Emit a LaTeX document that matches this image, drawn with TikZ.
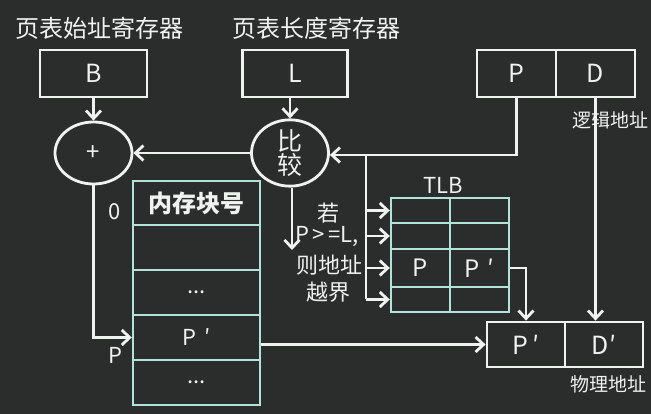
\documentclass[tikz,border=0pt]{standalone}
\usepackage{fontspec}
\setmainfont{Noto Sans CJK SC}
\usepackage{tikz}
\usetikzlibrary{arrows.meta,shapes.geometric}
\definecolor{board}{HTML}{2B2C2C}
\definecolor{chalk}{HTML}{EEF3EF}
\definecolor{cyanline}{HTML}{B3E2D8}
\tikzset{
  reg/.style={draw=chalk,line width=2.8pt,minimum height=47pt,inner sep=0pt,text=chalk,font=\fontsize{25}{27}\selectfont},
  op/.style={ellipse,draw=chalk,line width=2.8pt,inner sep=0pt,minimum width=77pt,minimum height=62pt,text=chalk},
  cell/.style={draw=cyanline,line width=2.4pt,inner sep=0pt,text=chalk,font=\fontsize{22}{24}\selectfont},
  lbl/.style={text=chalk,inner sep=0pt,font=\fontsize{22}{24}\selectfont},
  wire/.style={draw=chalk,line width=2.8pt},
  link/.style={wire,-{Straight Barb[length=8pt,width=15pt]}},
}

\begin{document}
\begin{tikzpicture}[x=1pt,y=-1pt]
  \fill[board] (0,0) rectangle (651,414);
  \useasboundingbox (0,0) rectangle (651,414);
  % registers and logical address
  \node[lbl,font=\fontsize{24}{26}\selectfont] (tBase) at (100,28) {页表始址寄存器};
  \node[lbl,font=\fontsize{24}{26}\selectfont] (tLen) at (316,28) {页表长度寄存器};
  \node[reg,minimum width=107pt] (regB) at (93.5,73.5) {B};
  \node[reg,minimum width=105pt] (regL) at (295,73.5) {L};
  \node[reg,minimum width=79pt] (logP) at (516.5,73.5) {P};
  \node[reg,minimum width=79pt] (logD) at (595.5,73.5) {D};
  \node[lbl,anchor=west,font=\fontsize{19}{21}\selectfont] (tLog) at (572,120) {逻辑地址};
  % adder and comparator
  \node[op,font=\fontsize{24}{26}\selectfont] (plus) at (93.5,153) {+};
  \node[op,font=\fontsize{25}{24}\selectfont,align=center] (cmp) at (290,153) {比\\较};
  % page table in memory
  \node[cell,minimum width=127pt,minimum height=44pt,font=\bfseries\fontsize{24}{26}\selectfont] (mem0) at (196.5,203) {内存块号};
  \node[cell,minimum width=127pt,minimum height=45pt] (mem1) at (196.5,247.5) {};
  \node[cell,minimum width=127pt,minimum height=45pt] (mem2) at (196.5,292.5) {...};
  \node[cell,minimum width=127pt,minimum height=45pt] (mem3) at (196.5,337.5) {P\,\,′};
  \node[cell,minimum width=127pt,minimum height=45pt] (mem4) at (196.5,382.5) {...};
  \node[lbl] (zero) at (115,212) {0};
  \node[lbl] (pIdx) at (115,355) {P};
  % TLB
  \node[lbl] (tTLB) at (443,185) {TLB};
  \node[cell,minimum width=59pt,minimum height=25pt] (t1l) at (420.5,210.5) {};
  \node[cell,minimum width=59pt,minimum height=25pt] (t1r) at (479.5,210.5) {};
  \node[cell,minimum width=59pt,minimum height=26pt] (t2l) at (420.5,236) {};
  \node[cell,minimum width=59pt,minimum height=26pt] (t2r) at (479.5,236) {};
  \node[cell,minimum width=59pt,minimum height=38pt,font=\fontsize{24}{26}\selectfont] (t3l) at (420.5,268) {P};
  \node[cell,minimum width=59pt,minimum height=38pt,font=\fontsize{24}{26}\selectfont] (t3r) at (479.5,268) {P\,\,′};
  \node[cell,minimum width=59pt,minimum height=25pt] (t4l) at (420.5,299.5) {};
  \node[cell,minimum width=59pt,minimum height=25pt] (t4r) at (479.5,299.5) {};
  % physical address
  \node[reg,minimum width=78pt,minimum height=45pt] (phyP) at (526,344.5) {P\,′};
  \node[reg,minimum width=78pt,minimum height=45pt] (phyD) at (604,344.5) {D′};
  \node[lbl,anchor=west,font=\fontsize{19}{21}\selectfont] (tPhy) at (570,384) {物理地址};
  % out of range note
  \node[lbl] (n1) at (328,213) {若};
  \node[lbl] (n2) at (327,237) {P\,>\,=L,};
  \node[lbl] (n3) at (329,265) {则地址};
  \node[lbl] (n4) at (328,292) {越界};
  % connectors
  \coordinate (j1) at (366,155);
  \coordinate (cmpEnd) at (292,250);
  \draw[link] (regB) -- (plus);
  \draw[link] (regL.south -| cmp.north) -- (cmp.north);
  \draw[link] (cmp.west) -- (plus.east);
  \draw[link] (logP.south) -- (logP.south |- j1) -- (cmp.east |- j1);
  \draw[wire] (j1) -- (j1 |- t4l.west);
  \draw[link] (j1 |- t1l.west) -- (t1l.west);
  \draw[link] (j1 |- t2l.west) -- (t2l.west);
  \draw[link] (j1 |- t3l.west) -- (t3l.west);
  \draw[link] (j1 |- t4l.west) -- (t4l.west);
  \draw[link] (cmpEnd |- cmp.south) -- (cmpEnd);
  \draw[link] (plus.south) -- (plus.south |- mem3.west) -- (mem3.west);
  \draw[link] (mem3.east |- phyP.west) -- (phyP.west);
  \draw[link] (t3r.east) -- (t3r.east -| phyP.north) -- (phyP.north);
  \draw[link] (logD.south) -- (logD.south |- phyD.north);
\end{tikzpicture}
\end{document}
